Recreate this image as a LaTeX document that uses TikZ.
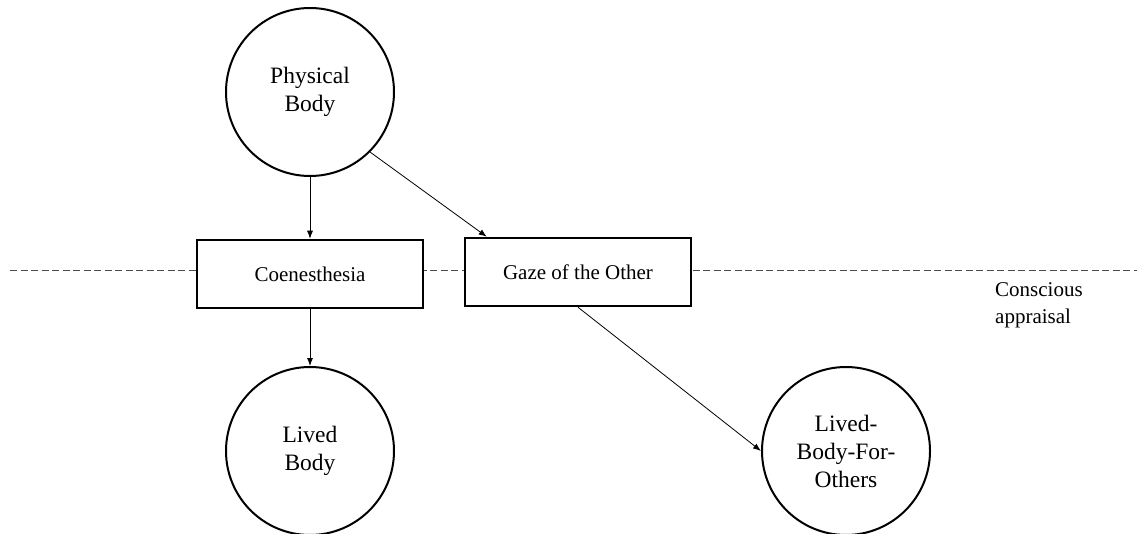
\documentclass[tikz,border=0pt]{standalone}
\usepackage{fontspec}
\setmainfont{Liberation Serif}
\usetikzlibrary{arrows.meta,calc}
\tikzset{
  bodycircle/.style={circle,draw,line width=2pt,fill=white,minimum size=168pt,inner sep=0pt,align=center,font=\fontsize{23.5}{28}\selectfont},
  stagebox/.style={rectangle,draw,line width=2.5pt,fill=white,minimum width=226pt,minimum height=68pt,inner sep=0pt,font=\fontsize{21}{24}\selectfont},
  conn/.style={line width=0.8pt,-{Latex[length=8pt,width=6pt]}},
  threshold/.style={line width=1pt,draw=black!70,dash pattern=on 7pt off 3.5pt},
  sidelabel/.style={align=left,anchor=west,inner sep=0pt,font=\fontsize{21}{27}\selectfont}
}
\begin{document}
\begin{tikzpicture}[x=1pt,y=-1pt]
\useasboundingbox (0,0) rectangle (1137,534);
\coordinate (dashL) at (10,271);
\coordinate (dashR) at (1137,271);
\draw[threshold] (dashL) -- (dashR);
\node[bodycircle] (pb) at (310,92) {Physical\\Body};
\node[stagebox] (coen) at (310,274) {Coenesthesia};
\node[stagebox] (gaze) at (578,272) {Gaze of the Other};
\node[bodycircle] (lb) at (310,451) {Lived\\Body};
\node[bodycircle] (lbfo) at (846,451) {Lived-\\Body-For-\\Others};
\node[sidelabel] (ca) at (995,305) {Conscious\\appraisal};
\coordinate (gazein) at ($(gaze.north west)+(23,0)$);
\draw[conn] (pb) -- (coen);
\draw[conn] (pb.south east) -- (gazein);
\draw[conn] (coen) -- (lb);
\draw[conn] (gaze.south) -- (lbfo.west);
\end{tikzpicture}
\end{document}
